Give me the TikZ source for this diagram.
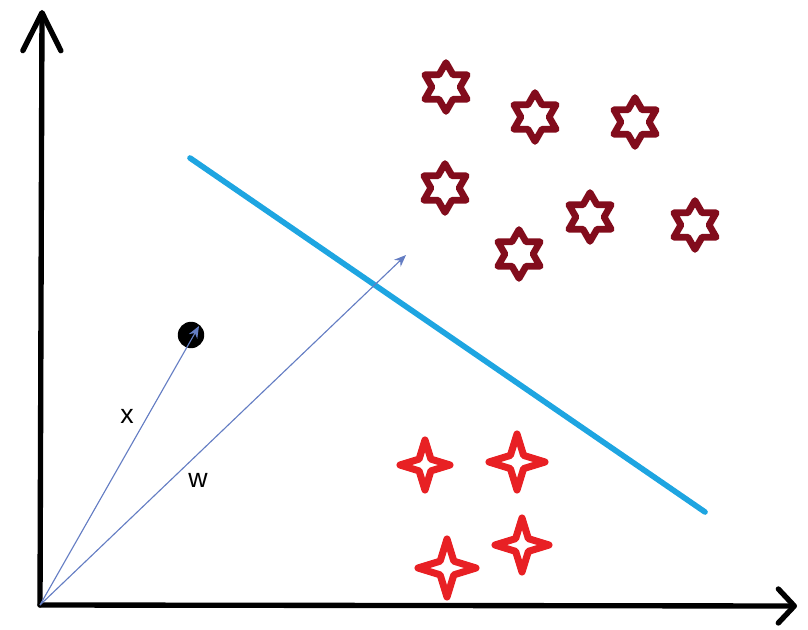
\documentclass[tikz,border=0pt]{standalone}
\usepackage{fontspec}
\setmainfont{Liberation Sans}
\usetikzlibrary{arrows.meta,shapes.geometric}
\definecolor{sepblue}{RGB}{30,165,225}
\definecolor{vecblue}{RGB}{100,125,195}
\definecolor{hexred}{RGB}{130,12,28}
\definecolor{sparkred}{RGB}{232,32,36}

\begin{document}
\begin{tikzpicture}[
  x=0.025cm, y=-0.025cm,
  axis/.style={line width=3.8pt, line cap=round, line join=round},
  vec/.style={vecblue, line width=0.8pt, -{Stealth[length=3mm,width=2.4mm]}},
  hexstar/.style={star, star points=6, star point ratio=1.732, draw=hexred,
    line width=4.8pt, line join=round, minimum size=1.22cm, inner sep=0pt},
  sparkle/.style={star, star points=4, star point ratio=3.0, draw=sparkred,
    line width=5pt, line join=round, inner sep=0pt},
  lbl/.style={font=\fontsize{19}{22}\selectfont},
]
\useasboundingbox (0,0) rectangle (808,630);

% ---------- axes ----------
\coordinate (o) at (40,605);
\coordinate (ytop) at (42,10);
\coordinate (xend) at (797,606);
\draw[axis, -{Straight Barb[length=0.95cm,width=0.95cm,round]}] (o) -- (ytop);
\draw[axis, -{Straight Barb[length=0.4cm,width=0.85cm,round]}] (o) -- (xend);

% ---------- separating line ----------
\coordinate (s1) at (190,158);
\coordinate (s2) at (705,512);
\draw[sepblue, line width=4pt, line cap=round] (s1) -- (s2);

% ---------- point and vectors ----------
\node[circle, fill=black, minimum size=0.66cm, inner sep=0pt] (xpt) at (191,335) {};
\coordinate (xtip) at (199,326);
\coordinate (wtip) at (406,255);
\draw[vec] (o) -- (xtip);
\draw[vec] (o) -- (wtip);
\node[lbl] (xlab) at (127,416) {x};
\node[lbl] (wlab) at (198,480) {w};

% ---------- classes ----------
\foreach \px/\py [count=\i] in {446/87, 535/117, 635/122, 445/188, 590/217, 519/254, 695/225}
  \node[hexstar] (h\i) at (\px,\py) {};

\foreach \px/\py/\sz [count=\i] in {425/465/1.25cm, 517/462/1.4cm, 447/568/1.45cm, 522/545/1.35cm}
  \node[sparkle, minimum size=\sz] (s\i) at (\px,\py) {};

\end{tikzpicture}
\end{document}
